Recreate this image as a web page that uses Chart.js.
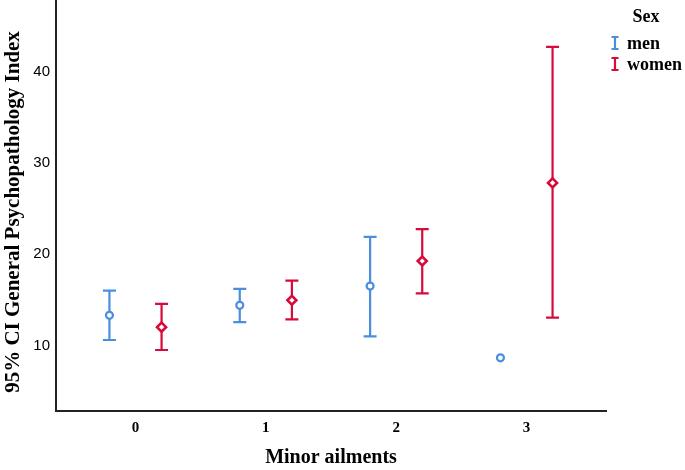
<!DOCTYPE html>
<html>
<head>
<meta charset="utf-8">
<script src="https://cdn.jsdelivr.net/npm/chart.js@4.4.0/dist/chart.umd.min.js"></script>
<style>
  html, body { margin: 0; padding: 0; background: #fff; }
  #wrap { width: 685px; height: 470px; position: relative; overflow: hidden; }
  #c { position: absolute; left: 0; top: -6px; }
</style>
</head>
<body>
<div id="wrap"><canvas id="c" width="685" height="476"></canvas></div>
<script>
// ---- Data ----
const categories = [0, 1, 2, 3];
const yTickLabels = [10, 20, 30, 40];
const seriesNames = ['men', 'women'];
const menMean  = [13.3, 14.4, 16.5, 8.65];
const menLow   = [10.6, 12.55, 11.0, null];
const menHigh  = [16.0, 16.2, 21.9, null];
const womenMean = [12.0, 14.95, 19.25, 27.8];
const womenLow  = [9.5, 12.85, 15.7, 13.05];
const womenHigh = [14.55, 17.1, 22.75, 42.7];
const yTitle = '95% CI General Psychopathology Index';
const xTitle = 'Minor ailments';
const legendTitle = 'Sex';

const BLUE = '#4a8ee0';
const RED = '#d60b3c';
const DODGE = 0.2;
const OFF = 6; // canvas is shifted up by this many px

function pts(means, lows, highs, off) {
  return categories.map((c, i) => ({ x: c + off, y: means[i], lo: lows[i], hi: highs[i] }));
}

const errorBars = {
  id: 'errorBars',
  beforeDatasetsDraw(chart) {
    const ctx = chart.ctx;
    const xs = chart.scales.x, ys = chart.scales.y;
    chart.data.datasets.forEach(ds => {
      ctx.save();
      ctx.strokeStyle = ds.borderColor;
      ctx.lineWidth = 2.2;
      ds.data.forEach(p => {
        if (p.lo == null || p.hi == null) return;
        const x = xs.getPixelForValue(p.x);
        const y1 = ys.getPixelForValue(p.lo);
        const y2 = ys.getPixelForValue(p.hi);
        ctx.beginPath();
        ctx.moveTo(x, y1); ctx.lineTo(x, y2);
        ctx.moveTo(x - 6.5, y1); ctx.lineTo(x + 6.5, y1);
        ctx.moveTo(x - 6.5, y2); ctx.lineTo(x + 6.5, y2);
        ctx.stroke();
      });
      ctx.restore();
    });
  },
  afterDraw(chart) {
    const ctx = chart.ctx;
    ctx.save();
    // y-axis title
    ctx.save();
    ctx.translate(14, 212 + OFF);
    ctx.rotate(-Math.PI / 2);
    ctx.fillStyle = '#000';
    ctx.font = 'bold 21px "Liberation Serif"';
    ctx.textAlign = 'center';
    ctx.textBaseline = 'middle';
    ctx.fillText(yTitle, 0, 0);
    ctx.restore();
    // legend
    ctx.fillStyle = '#000';
    ctx.font = 'bold 18px "Liberation Serif"';
    ctx.textAlign = 'center';
    ctx.textBaseline = 'middle';
    ctx.fillText(legendTitle, 646, 17 + OFF);
    const items = [[seriesNames[0], BLUE, 43 + OFF], [seriesNames[1], RED, 64 + OFF]];
    items.forEach(([name, col, y]) => {
      ctx.strokeStyle = col;
      ctx.lineWidth = 2.2;
      const x = 615;
      ctx.beginPath();
      ctx.moveTo(x, y - 6); ctx.lineTo(x, y + 6);
      ctx.moveTo(x - 3.5, y - 6); ctx.lineTo(x + 3.5, y - 6);
      ctx.moveTo(x - 3.5, y + 6); ctx.lineTo(x + 3.5, y + 6);
      ctx.stroke();
      ctx.fillStyle = '#000';
      ctx.textAlign = 'left';
      ctx.fillText(name, 627, y + 1);
    });
    ctx.restore();
  }
};

new Chart(document.getElementById('c'), {
  type: 'scatter',
  data: {
    datasets: [
      {
        label: seriesNames[0],
        data: pts(menMean, menLow, menHigh, -DODGE),
        borderColor: BLUE,
        backgroundColor: '#fff',
        pointStyle: 'circle',
        pointRadius: 3.5,
        pointBorderWidth: 2.2
      },
      {
        label: seriesNames[1],
        data: pts(womenMean, womenLow, womenHigh, DODGE),
        borderColor: RED,
        backgroundColor: '#fff',
        pointStyle: 'rectRot',
        pointRadius: 4.5,
        pointBorderWidth: 2.6
      }
    ]
  },
  options: {
    responsive: false,
    animation: false,
    layout: { padding: { top: 0, right: 79, left: 0, bottom: 0 } },
    plugins: { legend: { display: false }, tooltip: { enabled: false } },
    scales: {
      x: {
        type: 'linear',
        min: -0.61,
        max: 3.61,
        afterFit(s) { s.height = 59; s.paddingLeft = 0; s.paddingRight = 0; },
        afterBuildTicks(s) { s.ticks = categories.map(v => ({ value: v })); },
        grid: { display: false, drawTicks: false },
        border: { display: true, color: '#222', width: 2 },
        ticks: {
          color: '#000',
          font: { family: '"Liberation Serif"', size: 15, weight: 'bold' },
          padding: 8,
          autoSkip: false,
          maxRotation: 0,
          callback: v => String(v)
        },
        title: {
          display: true,
          text: xTitle,
          color: '#000',
          font: { family: '"Liberation Serif"', size: 20, weight: 'bold' },
          padding: { top: 13, bottom: 0 }
        }
      },
      y: {
        type: 'linear',
        min: 2.82,
        max: 47.72,
        afterFit(s) { s.width = 56; s.paddingTop = 0; s.paddingBottom = 0; },
        afterBuildTicks(s) { s.ticks = yTickLabels.map(v => ({ value: v })); },
        grid: { display: false, drawTicks: false },
        border: { display: true, color: '#222', width: 2 },
        ticks: {
          color: '#000',
          font: { family: '"Liberation Sans"', size: 15 },
          padding: 6,
          callback: v => String(v)
        },
        title: { display: false }
      }
    }
  },
  plugins: [errorBars]
});
</script>
</body>
</html>
